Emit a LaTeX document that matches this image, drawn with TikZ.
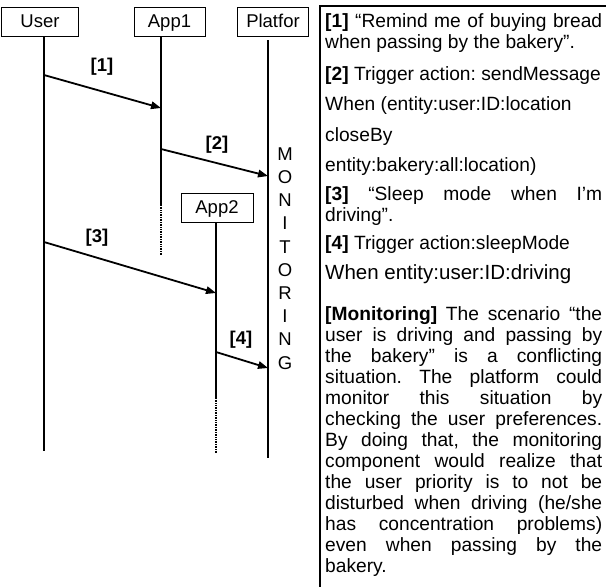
\documentclass[tikz,border=0pt]{standalone}
\usepackage{fontspec}
\setmainfont{Liberation Sans}
\usetikzlibrary{arrows.meta,positioning}
\hbadness=10000
\frenchspacing

\begin{document}
\begin{tikzpicture}[
  x=1pt, y=-1pt,
  font=\fontsize{18.5}{20}\selectfont,
  actor/.style={draw, line width=0.9pt, minimum width=71pt, minimum height=29pt, inner sep=0pt, text height=13pt, text depth=0.5pt},
  life/.style={line width=1.2pt},
  fade/.style={line width=1.4pt, dash pattern=on 0.9pt off 0.8pt},
  msg/.style={-{Triangle[length=10pt,width=7.5pt]}, line width=1.8pt},
  tag/.style={font=\fontsize{18.5}{20}\selectfont\bfseries},
  letter/.style={inner sep=0pt},
  note/.style={anchor=base west, inner sep=0pt, font=\fontsize{19.2}{21}\selectfont},
  para/.style={note, text width=277pt, align=justify}
]
  \useasboundingbox (0,0) rectangle (606,587);

  % actors
  \node[actor, minimum width=77pt] (user) at (40,21.5) {User};
  \node[actor] (app1) at (169.5,21.5) {App1};
  \node[actor] (plat) at (273,21.5) {Platfor};
  \node[actor, minimum width=72pt] (app2) at (217,207.5) {App2};

  % lifelines
  \coordinate (u0) at (44,36);   \coordinate (u9) at (44,451);
  \coordinate (a0) at (161,36);  \coordinate (a8) at (161,205);  \coordinate (a9) at (161,255);
  \coordinate (p0) at (268,40);  \coordinate (p9) at (268,458);
  \coordinate (b0) at (216,222); \coordinate (b8) at (216,398);  \coordinate (b9) at (216,453);
  \draw[life] (u0) -- (u9);
  \draw[life] (a0) -- (a8);
  \draw[fade] (a8) -- (a9);
  \draw[life] (p0) -- (p9);
  \draw[life] (b0) -- (b8);
  \draw[fade] (b8) -- (b9);

  % messages
  \coordinate (u1) at (44,75);   \coordinate (a1) at (161,108);
  \coordinate (a2) at (161,149); \coordinate (p2) at (268,176);
  \coordinate (u3) at (44,242);  \coordinate (b3) at (216,293);
  \coordinate (b4) at (216,352); \coordinate (p4) at (268,368);
  \draw[msg] (u1) -- (a1);
  \draw[msg] (a2) -- (p2);
  \draw[msg] (u3) -- (b3);
  \draw[msg] (b4) -- (p4);
  \node[tag] (t1) at (102,67) {[1]};
  \node[tag] (t2) at (217,145) {[2]};
  \node[tag] (t3) at (97,238) {[3]};
  \node[tag] (t4) at (241,340) {[4]};

  \foreach \l [count=\i from 0] in {M,O,N,I,T,O,R,I,N,G}
    \node[letter] (m\i) at (285,154+23.2*\i) {\l};

  % notes panel
  \draw[line width=1.2pt] (320,587) -- (320,6) -- (606,6);
  \node[para] (n1) at (325,27) {\textbf{[1]} “Remind me of buying bread\linebreak when passing by the bakery”.};
  \node[note] (n2) at (325,80) {\textbf{[2]} Trigger action: sendMessage};
  \node[note] (n3) at (325,110) {When (entity:user:ID:location};
  \node[note] (n4) at (325,141) {closeBy};
  \node[note] (n5) at (325,171) {entity:bakery:all:location)};
  \node[para] (n6) at (325,200) {\textbf{[3]} “Sleep mode when I’m\linebreak driving”.};
  \node[note] (n7) at (325,249) {\textbf{[4]} Trigger action:sleepMode};
  \node[note, font=\fontsize{20.5}{22}\selectfont] (n8) at (325,279.5) {When entity:user:ID:driving};
  \node[para] (n9) at (325,320) {\textbf{[Monitoring]} The scenario “the\linebreak
    user is driving and passing by\linebreak
    the bakery” is a conflicting\linebreak
    situation. The platform could\linebreak
    monitor this situation by\linebreak
    checking the user preferences.\linebreak
    By doing that, the monitoring\linebreak
    component would realize that\linebreak
    the user priority is to not be\linebreak
    disturbed when driving (he/she\linebreak
    has concentration problems)\linebreak
    even when passing by the\linebreak
    bakery.};
\end{tikzpicture}
\end{document}
